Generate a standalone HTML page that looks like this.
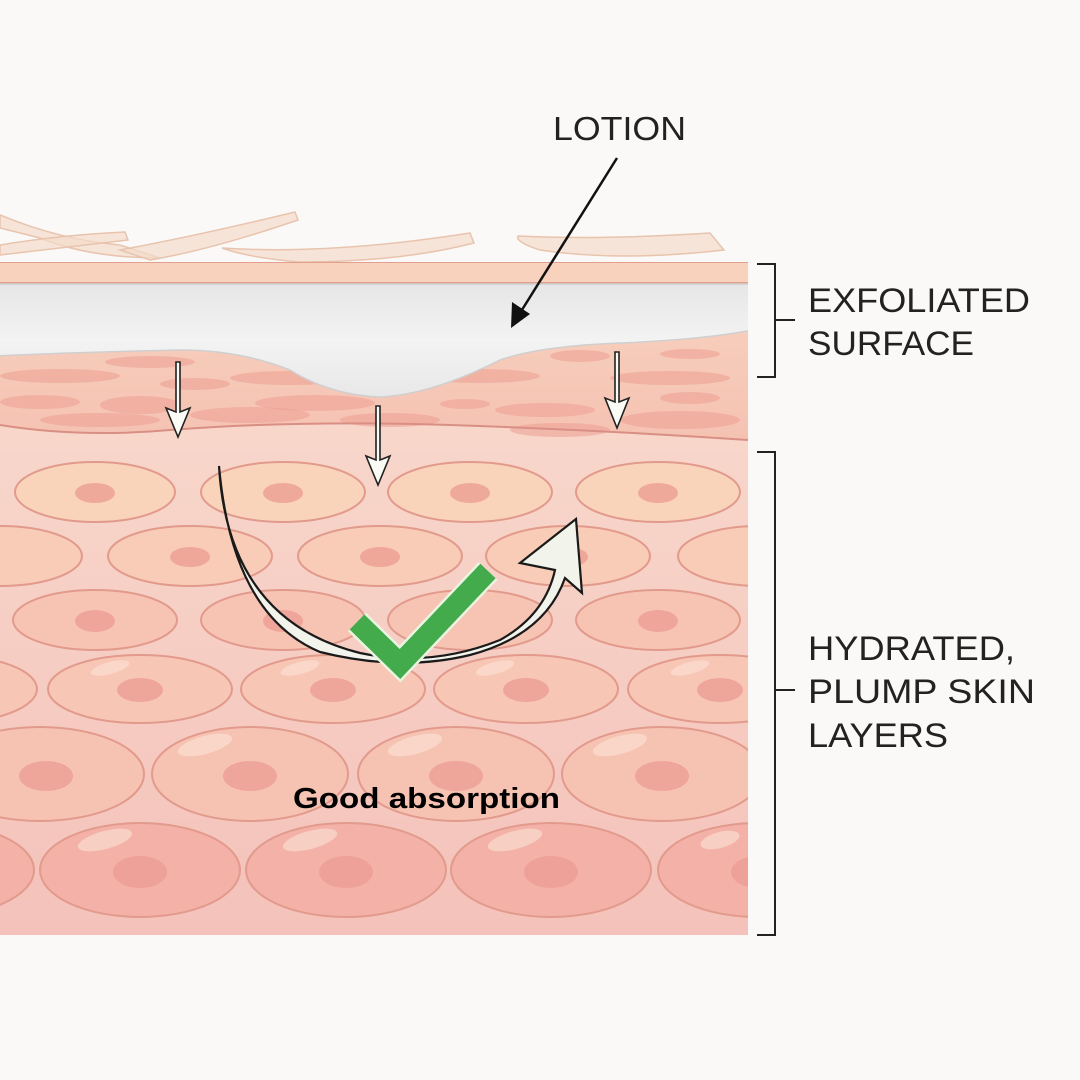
<!DOCTYPE html>
<html><head><meta charset="utf-8"><style>
html,body{margin:0;padding:0;background:#fbf9f7;}
svg{display:block;}
</style></head><body>
<svg width="1080" height="1080" viewBox="0 0 1080 1080" xmlns="http://www.w3.org/2000/svg">
<defs>
<linearGradient id="cellbg" x1="0" y1="0" x2="0" y2="1">
<stop offset="0" stop-color="#f9ddd0"/><stop offset="1" stop-color="#f4c2ba"/></linearGradient>
<linearGradient id="strat" x1="0" y1="0" x2="0" y2="1">
<stop offset="0" stop-color="#f8d2bf"/><stop offset="1" stop-color="#f5c2b2"/></linearGradient>
<linearGradient id="lotion" x1="0" y1="0" x2="0" y2="1">
<stop offset="0" stop-color="#e6e6e6"/><stop offset="0.5" stop-color="#f3f3f3"/><stop offset="1" stop-color="#e8e8e8"/></linearGradient>
<clipPath id="skin"><rect x="0" y="262" width="748" height="673"/></clipPath>
</defs>
<rect width="1080" height="1080" fill="#fbf9f7"/>
<!-- flakes -->
<g fill="#f3dccb" fill-opacity="0.7" stroke="#e8c4ae" stroke-width="1.5">
<path d="M0,215 Q60,240 120,245 L160,258 Q90,258 40,238 L0,228Z"/>
<path d="M0,245 Q60,235 125,232 L128,240 Q60,248 0,255Z"/>
<path d="M120,250 Q200,235 295,212 L298,220 Q210,250 150,260Z"/>
<path d="M222,248 Q330,255 470,233 L474,243 Q400,262 300,262 Q250,258 222,248Z"/>
<path d="M518,236 Q600,240 710,233 L724,250 Q620,262 540,250 Q515,242 518,236Z"/>
</g>
<g clip-path="url(#skin)">
<rect x="0" y="262" width="748" height="673" fill="url(#cellbg)"/>
<path d="M0,283 L748,283 L748,440 Q600,430 450,425 Q300,420 170,430 Q80,438 0,425Z" fill="url(#strat)"/>
<g fill="#ec9f92" fill-opacity="0.55">
<ellipse cx="60" cy="376" rx="60" ry="7"/><ellipse cx="150" cy="362" rx="45" ry="6"/>
<ellipse cx="40" cy="402" rx="40" ry="7"/><ellipse cx="140" cy="405" rx="40" ry="9"/>
<ellipse cx="195" cy="384" rx="35" ry="6"/><ellipse cx="100" cy="420" rx="60" ry="7"/>
<ellipse cx="250" cy="415" rx="60" ry="8"/><ellipse cx="290" cy="378" rx="60" ry="7"/>
<ellipse cx="315" cy="403" rx="60" ry="8"/><ellipse cx="390" cy="420" rx="50" ry="7"/>
<ellipse cx="480" cy="376" rx="60" ry="7"/><ellipse cx="465" cy="404" rx="25" ry="5"/>
<ellipse cx="545" cy="410" rx="50" ry="7"/><ellipse cx="580" cy="356" rx="30" ry="6"/>
<ellipse cx="690" cy="354" rx="30" ry="5"/><ellipse cx="670" cy="378" rx="60" ry="7"/>
<ellipse cx="690" cy="398" rx="30" ry="6"/><ellipse cx="680" cy="420" rx="60" ry="9"/>
<ellipse cx="560" cy="430" rx="50" ry="7"/>
</g>
<path d="M0,425 Q80,438 170,430 Q300,420 450,425 Q600,430 748,440" fill="none" stroke="#d98f84" stroke-width="2"/>
<rect x="0" y="262" width="748" height="22" fill="#f8d2bd"/>
<line x1="0" y1="262" x2="748" y2="262" stroke="#e39f8e" stroke-width="2"/>
<line x1="0" y1="283" x2="748" y2="283" stroke="#e39f8e" stroke-width="2"/>
<path d="M-5,284 L753,284 L753,330 Q700,340 620,343 Q540,346 500,360 Q430,395 380,397 Q330,395 290,370 Q240,350 180,350 Q80,352 -5,356Z" fill="url(#lotion)" stroke="#cfcfcf" stroke-width="1.5"/>
<g stroke="#e29a8c" stroke-width="2">
<g fill="#f9d4bb">
<ellipse cx="95" cy="492" rx="80" ry="30"/><ellipse cx="283" cy="492" rx="82" ry="30"/>
<ellipse cx="470" cy="492" rx="82" ry="30"/><ellipse cx="658" cy="492" rx="82" ry="30"/>
</g>
<g fill="#f8ccb6">
<ellipse cx="0" cy="556" rx="82" ry="30"/><ellipse cx="190" cy="556" rx="82" ry="30"/>
<ellipse cx="380" cy="556" rx="82" ry="30"/><ellipse cx="568" cy="556" rx="82" ry="30"/>
<ellipse cx="760" cy="556" rx="82" ry="30"/>
</g>
<g fill="#f7c4b4">
<ellipse cx="95" cy="620" rx="82" ry="30"/><ellipse cx="283" cy="620" rx="82" ry="30"/>
<ellipse cx="470" cy="620" rx="82" ry="30"/><ellipse cx="658" cy="620" rx="82" ry="30"/>
</g>
<g fill="#f7c6b4">
<ellipse cx="-55" cy="689" rx="92" ry="34"/><ellipse cx="140" cy="689" rx="92" ry="34"/>
<ellipse cx="333" cy="689" rx="92" ry="34"/><ellipse cx="526" cy="689" rx="92" ry="34"/>
<ellipse cx="720" cy="689" rx="92" ry="34"/>
</g>
<g fill="#f6c2b2">
<ellipse cx="40" cy="774" rx="104" ry="47"/><ellipse cx="250" cy="774" rx="98" ry="47"/>
<ellipse cx="456" cy="774" rx="98" ry="47"/><ellipse cx="662" cy="774" rx="100" ry="47"/>
</g>
<g fill="#f3b1a8">
<ellipse cx="-70" cy="870" rx="104" ry="47"/><ellipse cx="140" cy="870" rx="100" ry="47"/>
<ellipse cx="346" cy="870" rx="100" ry="47"/><ellipse cx="551" cy="870" rx="100" ry="47"/>
<ellipse cx="758" cy="870" rx="100" ry="47"/>
</g>
</g>
<g fill="#ec9d93" fill-opacity="0.8">
<ellipse cx="95" cy="493" rx="20" ry="10"/><ellipse cx="283" cy="493" rx="20" ry="10"/>
<ellipse cx="470" cy="493" rx="20" ry="10"/><ellipse cx="658" cy="493" rx="20" ry="10"/>
<ellipse cx="190" cy="557" rx="20" ry="10"/><ellipse cx="380" cy="557" rx="20" ry="10"/>
<ellipse cx="568" cy="557" rx="20" ry="10"/>
<ellipse cx="95" cy="621" rx="20" ry="11"/><ellipse cx="283" cy="621" rx="20" ry="11"/>
<ellipse cx="658" cy="621" rx="20" ry="11"/>
<ellipse cx="140" cy="690" rx="23" ry="12"/><ellipse cx="333" cy="690" rx="23" ry="12"/>
<ellipse cx="526" cy="690" rx="23" ry="12"/><ellipse cx="720" cy="690" rx="23" ry="12"/>
<ellipse cx="46" cy="776" rx="27" ry="15"/><ellipse cx="250" cy="776" rx="27" ry="15"/>
<ellipse cx="456" cy="776" rx="27" ry="15"/><ellipse cx="662" cy="776" rx="27" ry="15"/>
<ellipse cx="140" cy="872" rx="27" ry="16"/><ellipse cx="346" cy="872" rx="27" ry="16"/>
<ellipse cx="551" cy="872" rx="27" ry="16"/><ellipse cx="758" cy="872" rx="27" ry="16"/>
</g>
<g fill="#fbe3d6" fill-opacity="0.6">
<ellipse cx="110" cy="668" rx="20" ry="6" transform="rotate(-15 110 668)"/>
<ellipse cx="300" cy="668" rx="20" ry="6" transform="rotate(-15 300 668)"/>
<ellipse cx="495" cy="668" rx="20" ry="6" transform="rotate(-15 495 668)"/>
<ellipse cx="690" cy="668" rx="20" ry="6" transform="rotate(-15 690 668)"/>
<ellipse cx="205" cy="745" rx="28" ry="9" transform="rotate(-15 205 745)"/>
<ellipse cx="415" cy="745" rx="28" ry="9" transform="rotate(-15 415 745)"/>
<ellipse cx="620" cy="745" rx="28" ry="9" transform="rotate(-15 620 745)"/>
<ellipse cx="105" cy="840" rx="28" ry="9" transform="rotate(-15 105 840)"/>
<ellipse cx="310" cy="840" rx="28" ry="9" transform="rotate(-15 310 840)"/>
<ellipse cx="515" cy="840" rx="28" ry="9" transform="rotate(-15 515 840)"/>
<ellipse cx="720" cy="840" rx="20" ry="8" transform="rotate(-15 720 840)"/>
</g>
</g>
<!-- down arrows -->
<g fill="#fbfbf5" stroke="#222" stroke-width="1.6" stroke-linejoin="miter">
<path d="M176,362 L180,362 L180,412 L190,408 L178,437 L166,408 L176,412Z"/>
<path d="M376,406 L380,406 L380,460 L390,456 L378,485 L366,456 L376,460Z"/>
<path d="M615,352 L619,352 L619,402 L629,398 L617,428 L605,398 L615,402Z"/>
</g>
<!-- curved arrow -->
<path d="M219,466 Q228,620 360,653 Q430,668 500,640 Q545,615 555,570 L520,563 L576,519 L582,593 L565,578 Q545,635 470,655 Q400,672 320,652 Q232,615 219,466Z" fill="#f2f4ec" stroke="#1a1a1a" stroke-width="2.2"/>
<polyline points="357,622 400,664 488,571" fill="none" stroke="#e9f5e0" stroke-width="26" stroke-linejoin="miter"/>
<polyline points="357,622 400,664 488,571" fill="none" stroke="#43ab4b" stroke-width="21" stroke-linejoin="miter"/>
<!-- lotion label -->
<text x="553" y="140" textLength="133" lengthAdjust="spacingAndGlyphs" font-family="Liberation Sans, sans-serif" font-size="33" fill="#222">LOTION</text>
<line x1="617" y1="158" x2="520" y2="313" stroke="#111" stroke-width="2.5"/>
<polygon points="511,328 512,302 530,314" fill="#111"/>
<g stroke="#222" stroke-width="2" fill="none">
<polyline points="757,264 775,264 775,377 757,377"/>
<line x1="775" y1="320" x2="795" y2="320"/>
<polyline points="757,452 775,452 775,935 757,935"/>
<line x1="775" y1="690" x2="795" y2="690"/>
</g>
<g font-family="Liberation Sans, sans-serif" font-size="34" fill="#222" lengthAdjust="spacingAndGlyphs">
<text x="808" y="312" textLength="222" lengthAdjust="spacingAndGlyphs">EXFOLIATED</text>
<text x="808" y="355" textLength="166" lengthAdjust="spacingAndGlyphs">SURFACE</text>
<text x="808" y="660" textLength="207" lengthAdjust="spacingAndGlyphs">HYDRATED,</text>
<text x="808" y="703" textLength="227" lengthAdjust="spacingAndGlyphs">PLUMP SKIN</text>
<text x="808" y="747" textLength="140" lengthAdjust="spacingAndGlyphs">LAYERS</text>
</g>
<text x="293" y="808" textLength="267" lengthAdjust="spacingAndGlyphs" font-family="Liberation Sans, sans-serif" font-weight="bold" font-size="29" fill="#000">Good absorption</text>
</svg>
</body></html>
